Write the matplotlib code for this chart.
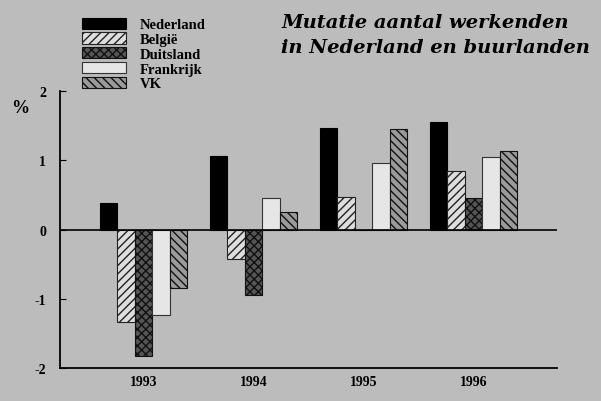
import numpy as np
import matplotlib.pyplot as plt
from matplotlib.patches import Patch

plt.rcParams['font.family'] = ['Liberation Serif', 'DejaVu Serif']
plt.rcParams['hatch.linewidth'] = 1.0

# data (% change)
jaren = ['1993', '1994', '1995', '1996']
landen = ['Nederland', 'België', 'Duitsland', 'Frankrijk', 'VK']
nederland = [0.39, 1.06, 1.47, 1.55]
belgie = [-1.33, -0.43, 0.47, 0.85]
duitsland = [-1.83, -0.94, 0.0, 0.46]
frankrijk = [-1.23, 0.46, 0.96, 1.05]
vk = [-0.84, 0.26, 1.45, 1.14]

series = [nederland, belgie, duitsland, frankrijk, vk]
stijlen = [
    dict(facecolor='black', edgecolor='black', hatch=None),
    dict(facecolor='#dedede', edgecolor='#222222', hatch='////'),
    dict(facecolor='#555555', edgecolor='#111111', hatch='xxxx'),
    dict(facecolor='#e6e6e6', edgecolor='#333333', hatch=None),
    dict(facecolor='#9a9a9a', edgecolor='#111111', hatch='\\\\\\\\'),
]

bg = '#bcbcbc'
fig = plt.figure(figsize=(6.01, 4.02), dpi=100, facecolor=bg)
ax = fig.add_axes([0.0998, 0.082, 0.827, 0.689])
ax.set_facecolor(bg)

x = np.arange(len(jaren))
w = 0.159
for j, (vals, st) in enumerate(zip(series, stijlen)):
    pos = x + (j - 2) * w
    ax.bar(pos, vals, width=w, linewidth=0.8, label=landen[j], **st)

ax.axhline(0, color='black', linewidth=1.2)
ax.set_xlim(-0.761, 3.757)
ax.set_ylim(-2, 2)

for s in ['top', 'right']:
    ax.spines[s].set_visible(False)
ax.spines['left'].set_linewidth(1.3)
ax.spines['bottom'].set_linewidth(1.3)

ax.set_yticks([-2, -1, 0, 1, 2])
ax.set_yticklabels(['-2', '-1', '0', '1', '2'], fontsize=10, fontweight='bold')
ax.tick_params(axis='y', direction='in', length=4, pad=10)
ax.set_xticks(x)
ax.set_xticklabels(jaren, fontsize=10, fontweight='bold')
ax.tick_params(axis='x', length=0, pad=5)

fig.text(0.018, 0.72, '%', fontsize=13, fontweight='bold')

# legend
handles = [Patch(linewidth=0.8, **st) for st in stijlen]
fig.legend(handles, landen, loc='upper left', bbox_to_anchor=(0.124, 0.972),
           frameon=False, prop={'size': 10.5, 'weight': 'bold'},
           handlelength=3.0, handleheight=0.8,
           labelspacing=0.08, handletextpad=1.0, borderpad=0)

fig.text(0.468, 0.93, 'Mutatie aantal werkenden', fontsize=14,
         fontweight='bold', style='italic', family='DejaVu Serif')
fig.text(0.468, 0.868, 'in Nederland en buurlanden', fontsize=14,
         fontweight='bold', style='italic', family='DejaVu Serif')

fig.savefig('out.png', dpi=100, facecolor=bg)
